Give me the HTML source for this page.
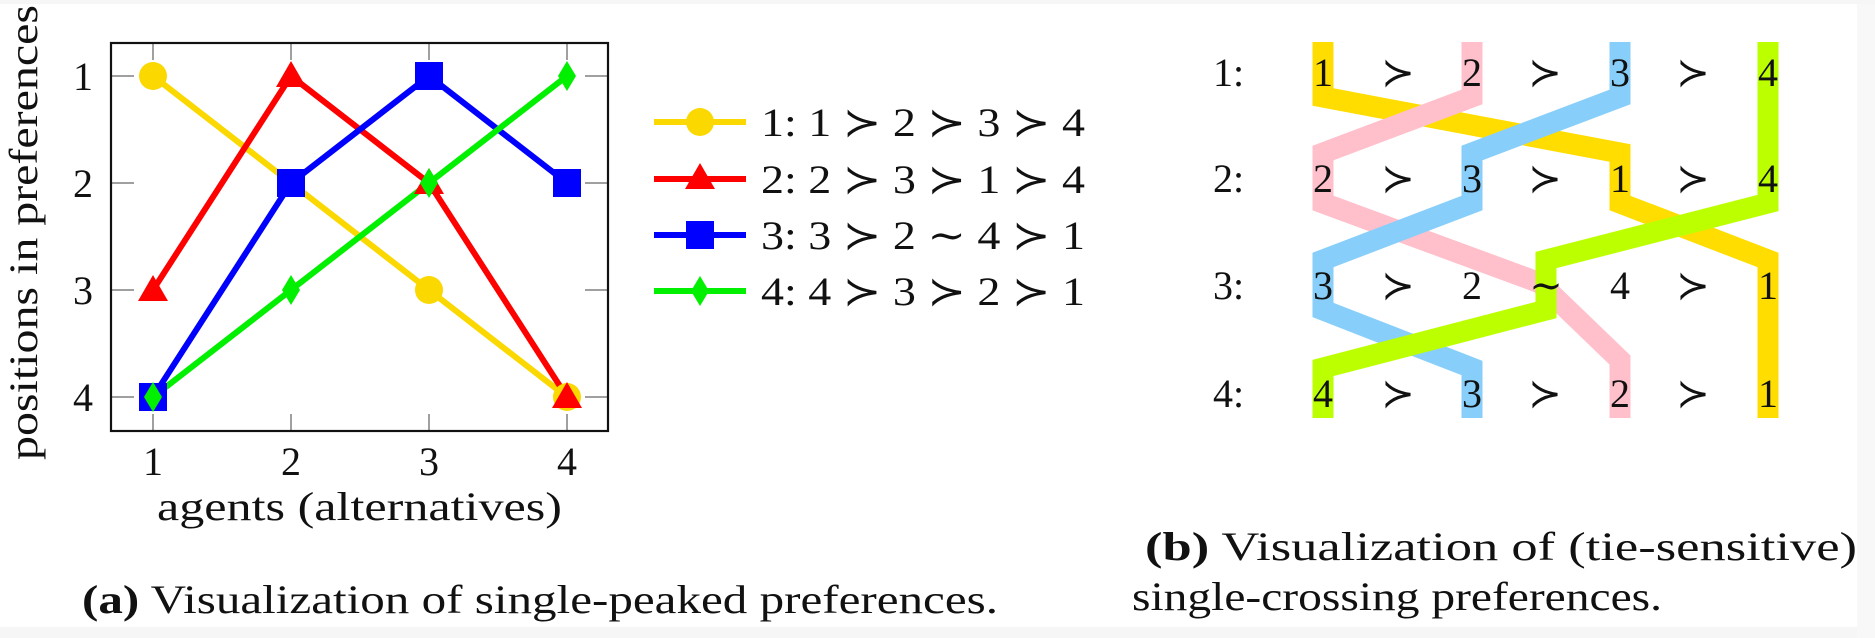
<!DOCTYPE html>
<html><head><meta charset="utf-8"><style>
html,body{margin:0;padding:0;background:#fff}
svg{display:block}
text{font-family:"Liberation Serif","DejaVu Serif",serif;fill:#111}
</style></head><body>
<svg width="1875" height="638" viewBox="0 0 1875 638" xmlns="http://www.w3.org/2000/svg">
<rect x="0" y="0" width="1875" height="638" fill="#fff"/>
<rect x="0" y="627" width="1875" height="11" fill="#f6f6f6"/>
<rect x="1857" y="0" width="18" height="638" fill="#f8f8f8"/>
<rect x="0" y="0" width="1875" height="4" fill="#f6f6f6"/>

<!-- plot (a) -->
<g stroke="#808080" stroke-width="1.5">
  <line x1="153" y1="43" x2="153" y2="60"/><line x1="291" y1="43" x2="291" y2="60"/><line x1="429" y1="43" x2="429" y2="60"/><line x1="567" y1="43" x2="567" y2="60"/>
  <line x1="153" y1="431" x2="153" y2="414"/><line x1="291" y1="431" x2="291" y2="414"/><line x1="429" y1="431" x2="429" y2="414"/><line x1="567" y1="431" x2="567" y2="414"/>
  <line x1="111" y1="76" x2="134" y2="76"/><line x1="111" y1="183" x2="134" y2="183"/><line x1="111" y1="290" x2="134" y2="290"/><line x1="111" y1="397" x2="134" y2="397"/>
  <line x1="608" y1="76" x2="585" y2="76"/><line x1="608" y1="183" x2="585" y2="183"/><line x1="608" y1="290" x2="585" y2="290"/><line x1="608" y1="397" x2="585" y2="397"/>
</g>
<rect x="111" y="43" width="497" height="388" fill="none" stroke="#111" stroke-width="2.2"/>

<g fill="none" stroke-width="6" stroke-linejoin="round">
  <polyline points="153,76 291,183 429,290 567,397" stroke="#FAD800"/>
  <polyline points="153,290 291,76 429,183 567,397" stroke="#FF0000"/>
  <polyline points="153,397 291,183 429,76 567,183" stroke="#0000FF"/>
  <polyline points="153,397 291,290 429,183 567,76" stroke="#00F000"/>
</g>
<!-- yellow circles -->
<g fill="#FAD800">
  <circle cx="153" cy="76" r="14"/><circle cx="291" cy="183" r="14"/><circle cx="429" cy="290" r="14"/><circle cx="567" cy="397" r="14"/>
</g>
<!-- red triangles -->
<g fill="#FF0000">
  <polygon points="153,275 168,301 138,301"/><polygon points="291,61 306,87 276,87"/><polygon points="429,168 444,194 414,194"/><polygon points="567,382 582,408 552,408"/>
</g>
<!-- blue squares -->
<g fill="#0000FF">
  <rect x="139" y="383" width="28" height="28"/><rect x="277" y="169" width="28" height="28"/><rect x="415" y="62" width="28" height="28"/><rect x="553" y="169" width="28" height="28"/>
</g>
<!-- green diamonds -->
<g fill="#00F000">
  <polygon points="153,382 162,397 153,412 144,397"/><polygon points="291,275 300,290 291,305 282,290"/><polygon points="429,168 438,183 429,198 420,183"/><polygon points="567,61 576,76 567,91 558,76"/>
</g>

<g font-size="40" text-anchor="end">
  <text x="93" y="90">1</text><text x="93" y="197">2</text><text x="93" y="304">3</text><text x="93" y="411">4</text>
</g>
<g font-size="40" text-anchor="middle">
  <text x="153" y="475">1</text><text x="291" y="475">2</text><text x="429" y="475">3</text><text x="567" y="475">4</text>
</g>
<text x="157" y="520" font-size="40" textLength="405" lengthAdjust="spacingAndGlyphs">agents (alternatives)</text>
<text transform="translate(37,460) rotate(-90)" font-size="40" textLength="455" lengthAdjust="spacingAndGlyphs">positions in preferences</text>

<!-- legend -->
<g stroke-width="6">
  <line x1="654" y1="122" x2="746" y2="122" stroke="#FAD800"/>
  <line x1="654" y1="179" x2="746" y2="179" stroke="#FF0000"/>
  <line x1="654" y1="235" x2="746" y2="235" stroke="#0000FF"/>
  <line x1="654" y1="291" x2="746" y2="291" stroke="#00F000"/>
</g>
<circle cx="700" cy="122" r="14" fill="#FAD800"/>
<polygon points="700,163 715,189 685,189" fill="#FF0000"/>
<rect x="686" y="221" width="28" height="28" fill="#0000FF"/>
<polygon points="700,276 709,291 700,306 691,291" fill="#00F000"/>
<g font-size="40">
  <text x="761" y="136" textLength="324" lengthAdjust="spacingAndGlyphs">1: 1 ≻ 2 ≻ 3 ≻ 4</text>
  <text x="761" y="193" textLength="324" lengthAdjust="spacingAndGlyphs">2: 2 ≻ 3 ≻ 1 ≻ 4</text>
  <text x="761" y="249" textLength="324" lengthAdjust="spacingAndGlyphs">3: 3 ≻ 2 ∼ 4 ≻ 1</text>
  <text x="761" y="305" textLength="324" lengthAdjust="spacingAndGlyphs">4: 4 ≻ 3 ≻ 2 ≻ 1</text>
</g>

<text x="82" y="613" font-size="40" textLength="916" lengthAdjust="spacingAndGlyphs"><tspan font-weight="bold">(a)</tspan> Visualization of single-peaked preferences.</text>

<!-- (b) bands -->
<g fill="none" stroke-width="21" stroke-linejoin="miter" stroke-linecap="butt">
  <polyline points="1323,42 1323,97 1620,153 1620,203 1768,260 1768,418" stroke="#FFDD00"/>
  <polyline points="1472,42 1472,97 1323,153 1323,203 1540,283 1620,360 1620,418" stroke="#FFC0CB"/>
  <polyline points="1620,42 1620,97 1472,153 1472,203 1323,260 1323,310 1472,368 1472,418" stroke="#87CEFA"/>
  <polyline points="1768,42 1768,203 1546,260 1546,310 1323,368 1323,418" stroke="#BBFF00"/>
</g>
<g font-size="40">
  <text x="1213" y="86">1:</text><text x="1213" y="192">2:</text><text x="1213" y="299">3:</text><text x="1213" y="407">4:</text>
</g>
<g font-size="40" text-anchor="middle">
  <text x="1323" y="86">1</text><text x="1398" y="86">≻</text><text x="1472" y="86">2</text><text x="1545" y="86">≻</text><text x="1620" y="86">3</text><text x="1693" y="86">≻</text><text x="1768" y="86">4</text>
  <text x="1323" y="192">2</text><text x="1398" y="192">≻</text><text x="1472" y="192">3</text><text x="1545" y="192">≻</text><text x="1620" y="192">1</text><text x="1693" y="192">≻</text><text x="1768" y="192">4</text>
  <text x="1323" y="299">3</text><text x="1398" y="299">≻</text><text x="1472" y="299">2</text><text x="1546" y="299">∼</text><text x="1620" y="299">4</text><text x="1693" y="299">≻</text><text x="1768" y="299">1</text>
  <text x="1323" y="407">4</text><text x="1398" y="407">≻</text><text x="1472" y="407">3</text><text x="1545" y="407">≻</text><text x="1620" y="407">2</text><text x="1693" y="407">≻</text><text x="1768" y="407">1</text>
</g>

<text x="1145" y="560" font-size="40" textLength="712" lengthAdjust="spacingAndGlyphs"><tspan font-weight="bold">(b)</tspan> Visualization of (tie-sensitive)</text>
<text x="1132" y="610" font-size="40" textLength="530" lengthAdjust="spacingAndGlyphs">single-crossing preferences.</text>
</svg>
</body></html>
